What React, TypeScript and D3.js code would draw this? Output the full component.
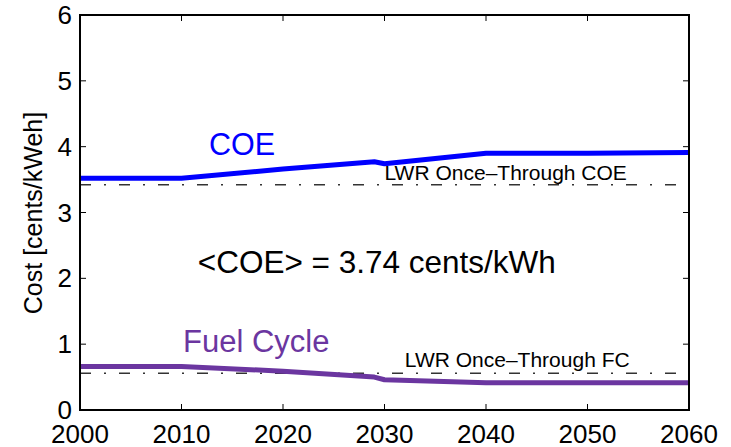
import React, { useEffect, useRef } from "react";
import * as d3 from "d3";

const years = [2000, 2010, 2020, 2029, 2030, 2040, 2050, 2060];
const coe = [3.52, 3.52, 3.66, 3.77, 3.74, 3.9, 3.9, 3.91];
const fcYears = [2000, 2010, 2020, 2029, 2030, 2040, 2050, 2060];
const fuelCycle = [0.66, 0.66, 0.59, 0.5, 0.46, 0.415, 0.415, 0.415];
const lwrCoe = 3.42;
const lwrFc = 0.56;
const xTicks = [2000, 2010, 2020, 2030, 2040, 2050, 2060];
const yTicks = [0, 1, 2, 3, 4, 5, 6];

const W = 731;
const H = 447;
const margin = { top: 15, right: 42, bottom: 37, left: 80 };
const font = "Liberation Sans, Arial, Helvetica, sans-serif";
const purple = "#6b36a0";

export default function App() {
  const ref = useRef<SVGSVGElement | null>(null);

  useEffect(() => {
    const svg = d3.select(ref.current);
    svg.selectAll("*").remove();

    const w = W - margin.left - margin.right;
    const h = H - margin.top - margin.bottom;

    const x = d3.scaleLinear().domain([2000, 2060]).range([0, w]);
    const y = d3.scaleLinear().domain([0, 6]).range([h, 0]);

    const g = svg.append("g")
      .attr("transform", `translate(${margin.left},${margin.top})`);

    // LWR once-through reference lines (dash-dot)
    [lwrCoe, lwrFc].forEach((v) => {
      g.append("line")
        .attr("x1", 0).attr("x2", w)
        .attr("y1", y(v)).attr("y2", y(v))
        .attr("stroke", "#333")
        .attr("stroke-width", 1.5)
        .attr("stroke-dasharray", "11,13,2,13");
    });

    const line = d3.line<[number, number]>()
      .x((d) => x(d[0]))
      .y((d) => y(d[1]));

    g.append("path")
      .datum(years.map((yr, i) => [yr, coe[i]] as [number, number]))
      .attr("fill", "none")
      .attr("stroke", "#0000ff")
      .attr("stroke-width", 5)
      .attr("stroke-linejoin", "round")
      .attr("d", line);

    g.append("path")
      .datum(fcYears.map((yr, i) => [yr, fuelCycle[i]] as [number, number]))
      .attr("fill", "none")
      .attr("stroke", purple)
      .attr("stroke-width", 5)
      .attr("stroke-linejoin", "round")
      .attr("d", line);

    // box + inward ticks
    g.append("rect")
      .attr("width", w).attr("height", h)
      .attr("fill", "none")
      .attr("stroke", "#000")
      .attr("stroke-width", 2);

    const tick = 6;
    xTicks.forEach((t) => {
      g.append("line").attr("x1", x(t)).attr("x2", x(t))
        .attr("y1", h).attr("y2", h - tick).attr("stroke", "#000");
      g.append("line").attr("x1", x(t)).attr("x2", x(t))
        .attr("y1", 0).attr("y2", tick).attr("stroke", "#000");
      g.append("text")
        .attr("x", x(t)).attr("y", h + 33)
        .attr("text-anchor", "middle")
        .attr("font-family", font).attr("font-size", 26)
        .text(t);
    });
    yTicks.forEach((t) => {
      g.append("line").attr("x1", 0).attr("x2", tick)
        .attr("y1", y(t)).attr("y2", y(t)).attr("stroke", "#000");
      g.append("line").attr("x1", w).attr("x2", w - tick)
        .attr("y1", y(t)).attr("y2", y(t)).attr("stroke", "#000");
      g.append("text")
        .attr("x", -8).attr("y", y(t) + 9)
        .attr("text-anchor", "end")
        .attr("font-family", font).attr("font-size", 26)
        .text(t);
    });

    svg.append("text")
      .attr("transform", `translate(42,213) rotate(-90)`)
      .attr("text-anchor", "middle")
      .attr("font-family", font).attr("font-size", 25)
      .text("Cost [cents/kWeh]");

    // annotations
    const label = (tx: number, ty: number, s: string, size: number, color: string) =>
      g.append("text")
        .attr("x", x(tx)).attr("y", y(ty))
        .attr("font-family", font).attr("font-size", size)
        .attr("fill", color)
        .text(s);

    label(2012.7, 3.88, "COE", 30.5, "#0000ff");
    label(2010.15, 0.88, "Fuel Cycle", 31, purple);
    label(2030, 3.50, "LWR Once\u2013Through COE", 21, "#000");
    label(2032, 0.65, "LWR Once\u2013Through FC", 21, "#000");
    label(2011.6, 2.08, "<COE> = 3.74 cents/kWh", 31.5, "#000");
  }, []);

  return (
    <div style={{ position: "absolute", left: 0, top: 0 }}>
      <svg ref={ref} width={W} height={H} style={{ display: "block", background: "#fff" }} />
    </div>
  );
}
